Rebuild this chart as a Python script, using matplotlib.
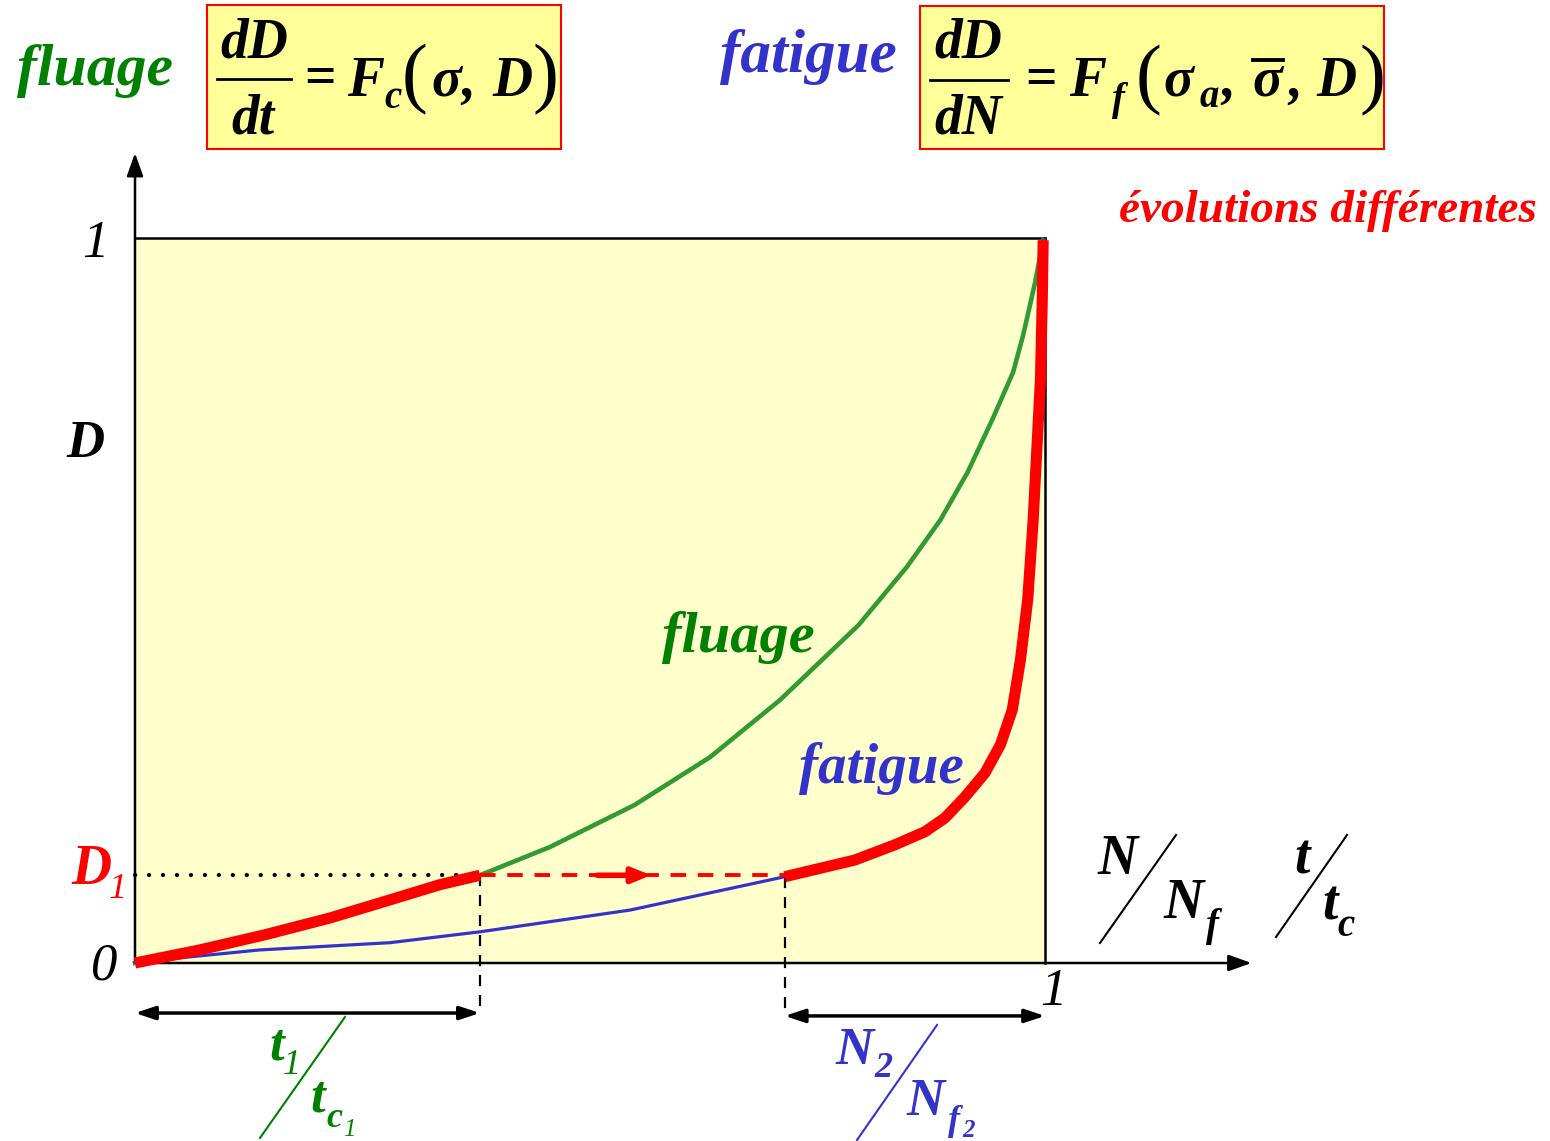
import numpy as np
import matplotlib.pyplot as plt
import matplotlib.patches as patches
import matplotlib.transforms as mtransforms

plt.rcParams['font.family'] = ['Liberation Serif', 'DejaVu Serif']

W, H = 1550, 1141

# damage curves, x = t/tc or N/Nf, y = D
fluage_x = [0.0, 0.071, 0.143, 0.214, 0.280, 0.335, 0.379, 0.456, 0.549, 0.632,
            0.709, 0.795, 0.848, 0.885, 0.915, 0.943, 0.965, 0.976, 0.989, 0.998]
fluage_y = [0.0, 0.018, 0.039, 0.062, 0.087, 0.108, 0.121, 0.160, 0.218, 0.284,
            0.363, 0.466, 0.546, 0.611, 0.677, 0.752, 0.815, 0.866, 0.938, 0.997]

fatigue_x = [0.0, 0.137, 0.280, 0.379, 0.544, 0.714, 0.791, 0.835, 0.868, 0.890,
             0.912, 0.934, 0.951, 0.964, 0.973, 0.981, 0.987, 0.991, 0.995, 0.997, 0.998]
fatigue_y = [0.001, 0.018, 0.028, 0.043, 0.073, 0.119, 0.142, 0.163, 0.181, 0.200,
             0.229, 0.262, 0.301, 0.349, 0.418, 0.501, 0.611, 0.708, 0.804, 0.914, 0.997]

D1 = 0.121    # damage reached under creep
t1 = 0.379    # t1/tc1
N2 = 0.714    # N2/Nf2

green_txt = '#008000'
green_ln = '#339933'
blue = '#3333CC'
red = '#FF0000'

fig = plt.figure(figsize=(W / 100, H / 100), dpi=100)
ax = fig.add_axes([0, 0, 1, 1])
ax.set_xlim(-135 / 910, (W - 135) / 910)
ax.set_ylim(-(H - 963) / 725, 963 / 725)
ax.axis('off')

# pixel transform for labels (origin top-left)
pix = mtransforms.Affine2D().scale(1 / W, -1 / H).translate(0, 1) + fig.transFigure


def txt(x, y, s, size=38, color='black', weight='bold', style='italic', ha='center', **kw):
    fig.text(x, y, s, transform=pix, fontsize=size, color=color, fontweight=weight,
             fontstyle=style, ha=ha, va='baseline', **kw)


def seg(x0, y0, x1, y1, color='black', lw=1.5):
    fig.add_artist(plt.Line2D([x0, x1], [y0, y1], transform=pix, color=color, lw=lw))


# yellow domain
ax.add_patch(patches.Rectangle((0, 0), 1, 1, facecolor='#FFFFCC', edgecolor='none', zorder=0))
ax.plot([0, 1], [1, 1], color='black', lw=1.8, zorder=1)
ax.plot([1, 1], [0, 1], color='black', lw=1.8, zorder=1)

# axes with arrows
ax.annotate('', xy=(1.23, 0), xytext=(0, 0),
            arrowprops=dict(arrowstyle='-|>,head_length=1.4,head_width=0.5', color='black', lw=1.8))
ax.annotate('', xy=(0, 1.121), xytext=(0, 0),
            arrowprops=dict(arrowstyle='-|>,head_length=1.4,head_width=0.5', color='black', lw=1.8))

fx = np.array(fluage_x)
fy = np.array(fluage_y)
gx = np.array(fatigue_x)
gy = np.array(fatigue_y)

ax.plot(fx, fy, color=green_ln, lw=3.3, zorder=3)
ax.plot(gx, gy, color=blue, lw=2.3, zorder=3)

# loading path: creep up to D1, then fatigue from N2
ax.plot(fx[fx <= t1 + 1e-9], fy[fx <= t1 + 1e-9], color=red, lw=8,
        solid_capstyle='butt', zorder=4)
ax.plot(gx[gx >= N2 - 1e-9], gy[gx >= N2 - 1e-9], color=red, lw=8,
        solid_capstyle='butt', zorder=4)
ax.plot([t1, N2], [D1, D1], color=red, lw=2.8, ls=(0, (4, 3)), zorder=4)
ax.annotate('', xy=(0.57, D1), xytext=(0.505, D1),
            arrowprops=dict(arrowstyle='-|>,head_length=1.1,head_width=0.45', color=red, lw=4),
            zorder=5)

# guide lines
ax.plot([0, t1], [D1, D1], color='black', lw=3, ls=(0, (0.05, 3.3)), dash_capstyle='round', zorder=2)
ax.plot([t1, t1], [D1, -0.069], color='black', lw=1.6, ls=(0, (5, 4)), zorder=2)
ax.plot([N2, N2], [gy[5], -0.073], color='black', lw=1.6, ls=(0, (5, 4)), zorder=2)
ax.annotate('', xy=(0, -0.069), xytext=(t1, -0.069),
            arrowprops=dict(arrowstyle='<|-|>,head_length=1.2,head_width=0.4', color='black', lw=2.5,
                            shrinkA=0, shrinkB=0))
ax.annotate('', xy=(N2, -0.073), xytext=(1, -0.073),
            arrowprops=dict(arrowstyle='<|-|>,head_length=1.2,head_width=0.4', color='black', lw=2.5,
                            shrinkA=0, shrinkB=0))

# axis labels
txt(95, 257, '1', size=38, weight='normal')
txt(85, 457, 'D', size=38)
txt(104, 980, '0', size=38, weight='normal')
txt(1053, 1005, '1', size=38, weight='normal')
txt(91, 884, 'D', size=40, color=red)
txt(118, 898, '1', size=26, color=red, weight='normal')

txt(1118, 874, 'N', size=40)
seg(1100, 943, 1176, 835)
txt(1184, 918, 'N', size=40)
txt(1213, 936, 'f', size=28)
txt(1302, 874, 't', size=40)
seg(1276, 937, 1347, 835)
txt(1330, 920, 't', size=40)
txt(1346, 936, 'c', size=28)

# t1/tc1 and N2/Nf2
txt(277, 1060, 't', size=38, color=green_txt)
txt(292, 1074, '1', size=26, color=green_txt, weight='normal')
seg(260, 1138, 345, 1017, color=green_txt)
txt(318, 1112, 't', size=38, color=green_txt)
txt(334, 1127, 'c', size=26, color=green_txt)
txt(349, 1136, '1', size=18, color=green_txt, weight='normal')

txt(855, 1064, 'N', size=38, color=blue)
txt(884, 1077, '2', size=26, color=blue)
seg(857, 1140, 937, 1025, color=blue)
txt(926, 1115, 'N', size=38, color=blue)
txt(954, 1130, 'f', size=26, color=blue)
txt(969, 1137, '2', size=18, color=blue)

# curve names
txt(738, 652, 'fluage', size=42, color=green_txt)
txt(881, 783, 'fatigue', size=41, color=blue)
txt(1328, 222, 'évolutions différentes', size=34, color=red)

# header: creep law
txt(95, 85, 'fluage', size=43, color=green_txt)
fig.add_artist(patches.Rectangle((207, 5), 354, 144, transform=pix, facecolor='#FFFF99',
                                 edgecolor=red, lw=1.5))
txt(254, 57, 'dD', size=40)
seg(217, 79, 291, 79, lw=2)
txt(253, 134, 'dt', size=40)
txt(320, 94, '=', size=40, style='normal')
txt(366, 96, 'F', size=40)
txt(393, 108, 'c', size=28)
txt(415, 98, '(', size=56, weight='normal', style='normal')
txt(446, 96, 'σ', size=40)
txt(468, 96, ',', size=40)
txt(512, 96, 'D', size=40)
txt(545, 98, ')', size=56, weight='normal', style='normal')

# header: fatigue law
txt(808, 72, 'fatigue', size=44, color=blue)
fig.add_artist(patches.Rectangle((920, 6), 464, 143, transform=pix, facecolor='#FFFF99',
                                 edgecolor=red, lw=1.5))
txt(968, 57, 'dD', size=40)
seg(930, 80, 1008, 80, lw=2)
txt(968, 134, 'dN', size=40)
txt(1041, 95, '=', size=40, style='normal')
txt(1088, 96, 'F', size=40)
txt(1118, 110, 'f', size=28)
txt(1149, 99, '(', size=56, weight='normal', style='normal')
txt(1178, 96, 'σ', size=40)
txt(1209, 107, 'a', size=28)
txt(1228, 96, ',', size=40)
txt(1267, 96, 'σ', size=40)
seg(1253, 60, 1283, 60, lw=2.8)
txt(1295, 96, ',', size=40)
txt(1336, 96, 'D', size=40)
txt(1372, 99, ')', size=56, weight='normal', style='normal')

fig.savefig('out.png', dpi=100)
